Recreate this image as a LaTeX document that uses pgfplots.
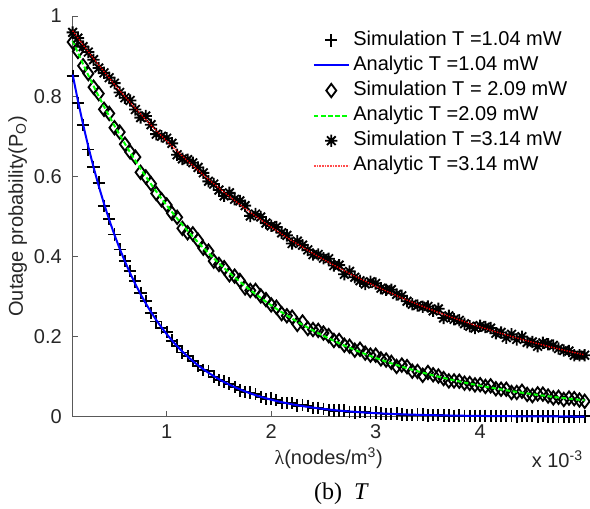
\documentclass[border=0pt]{standalone}
\usepackage{pgfplots}
\usepackage{pgfplotstable}
\pgfplotsset{compat=1.18}
\usepackage{fontspec}
\setmainfont{Liberation Sans}
\newfontfamily\seriffont{Liberation Serif}

\pgfdeclareplotmark{mstar}{%
\pgfpathmoveto{\pgfqpoint{-\pgfplotmarksize}{0pt}}\pgfpathlineto{\pgfqpoint{\pgfplotmarksize}{0pt}}%
\pgfpathmoveto{\pgfqpoint{0pt}{-\pgfplotmarksize}}\pgfpathlineto{\pgfqpoint{0pt}{\pgfplotmarksize}}%
\pgfpathmoveto{\pgfqpoint{-0.7071\pgfplotmarksize}{-0.7071\pgfplotmarksize}}\pgfpathlineto{\pgfqpoint{0.7071\pgfplotmarksize}{0.7071\pgfplotmarksize}}%
\pgfpathmoveto{\pgfqpoint{-0.7071\pgfplotmarksize}{0.7071\pgfplotmarksize}}\pgfpathlineto{\pgfqpoint{0.7071\pgfplotmarksize}{-0.7071\pgfplotmarksize}}%
\pgfusepathqstroke}

\pgfplotstableread{
x a1 s1 a2 s2 a3 s3
0.10 0.8539 0.8509 0.9380 0.9350 0.9633 0.9591
0.15 0.7890 0.7820 0.9085 0.9115 0.9454 0.9448
0.20 0.7291 0.7281 0.8799 0.8757 0.9279 0.9237
0.25 0.6737 0.6667 0.8521 0.8563 0.9107 0.9101
0.30 0.6225 0.6235 0.8253 0.8223 0.8939 0.8909
0.35 0.5752 0.5842 0.7993 0.8063 0.8773 0.8703
0.40 0.5315 0.5265 0.7741 0.7671 0.8611 0.8581
0.45 0.4912 0.4942 0.7498 0.7568 0.8451 0.8461
0.50 0.4538 0.4548 0.7262 0.7212 0.8294 0.8324
0.55 0.4194 0.4171 0.7033 0.7103 0.8141 0.8091
0.60 0.3875 0.3883 0.6811 0.6801 0.7990 0.7960
0.65 0.3581 0.3633 0.6597 0.6607 0.7842 0.7892
0.70 0.3309 0.3376 0.6389 0.6479 0.7697 0.7667
0.75 0.3057 0.3095 0.6188 0.6098 0.7554 0.7464
0.80 0.2825 0.2893 0.5993 0.5983 0.7414 0.7504
0.85 0.2611 0.2588 0.5804 0.5814 0.7277 0.7287
0.90 0.2412 0.2375 0.5621 0.5571 0.7142 0.7052
0.95 0.2229 0.2206 0.5444 0.5414 0.7010 0.7000
1.00 0.2060 0.2113 0.5273 0.5283 0.6880 0.6950
1.05 0.1903 0.1898 0.5107 0.5077 0.6752 0.6822
1.10 0.1759 0.1774 0.4946 0.4976 0.6627 0.6537
1.15 0.1625 0.1600 0.4790 0.4700 0.6504 0.6434
1.20 0.1502 0.1517 0.4639 0.4589 0.6384 0.6414
1.25 0.1388 0.1383 0.4493 0.4563 0.6266 0.6336
1.30 0.1282 0.1267 0.4352 0.4402 0.6150 0.6220
1.35 0.1185 0.1170 0.4215 0.4205 0.6036 0.6086
1.40 0.1095 0.1130 0.4082 0.4132 0.5924 0.5874
1.45 0.1012 0.0997 0.3953 0.3883 0.5814 0.5804
1.50 0.0935 0.0910 0.3829 0.3799 0.5706 0.5656
1.55 0.0864 0.0879 0.3708 0.3718 0.5601 0.5511
1.60 0.0798 0.0825 0.3592 0.3542 0.5497 0.5587
1.65 0.0738 0.0741 0.3478 0.3508 0.5395 0.5425
1.70 0.0682 0.0655 0.3369 0.3399 0.5295 0.5385
1.75 0.0630 0.0615 0.3263 0.3213 0.5197 0.5267
1.80 0.0582 0.0603 0.3160 0.3150 0.5101 0.5011
1.85 0.0538 0.0559 0.3061 0.3151 0.5006 0.5056
1.90 0.0497 0.0494 0.2964 0.3014 0.4914 0.4984
1.95 0.0459 0.0438 0.2871 0.2921 0.4822 0.4832
2.00 0.0424 0.0451 0.2780 0.2790 0.4733 0.4763
2.05 0.0392 0.0407 0.2693 0.2731 0.4645 0.4735
2.10 0.0362 0.0341 0.2608 0.2571 0.4559 0.4589
2.15 0.0335 0.0344 0.2526 0.2518 0.4475 0.4525
2.20 0.0309 0.0336 0.2446 0.2484 0.4392 0.4322
2.25 0.0286 0.0277 0.2369 0.2302 0.4311 0.4381
2.30 0.0264 0.0291 0.2295 0.2363 0.4231 0.4281
2.35 0.0244 0.0271 0.2222 0.2200 0.4152 0.4162
2.40 0.0226 0.0217 0.2152 0.2175 0.4075 0.4045
2.45 0.0208 0.0223 0.2085 0.2153 0.4000 0.4050
2.50 0.0193 0.0196 0.2019 0.2087 0.3926 0.3956
2.55 0.0178 0.0168 0.1955 0.2023 0.3853 0.3943
2.60 0.0164 0.0151 0.1894 0.1902 0.3782 0.3772
2.65 0.0152 0.0154 0.1834 0.1902 0.3712 0.3782
2.70 0.0140 0.0151 0.1776 0.1784 0.3643 0.3553
2.75 0.0130 0.0122 0.1720 0.1758 0.3575 0.3625
2.80 0.0120 0.0106 0.1666 0.1659 0.3509 0.3479
2.85 0.0111 0.0124 0.1614 0.1682 0.3444 0.3394
2.90 0.0102 0.0110 0.1563 0.1586 0.3380 0.3310
2.95 0.0095 0.0093 0.1514 0.1537 0.3318 0.3368
3.00 0.0087 0.0101 0.1466 0.1534 0.3256 0.3326
3.05 0.0081 0.0079 0.1420 0.1443 0.3196 0.3206
3.10 0.0075 0.0073 0.1375 0.1413 0.3137 0.3167
3.15 0.0069 0.0071 0.1332 0.1355 0.3079 0.3169
3.20 0.0064 0.0077 0.1290 0.1253 0.3022 0.3052
3.25 0.0059 0.0052 0.1249 0.1287 0.2966 0.3016
3.30 0.0054 0.0050 0.1210 0.1248 0.2911 0.2881
3.35 0.0050 0.0037 0.1172 0.1135 0.2857 0.2807
3.40 0.0047 0.0055 0.1135 0.1128 0.2804 0.2774
3.45 0.0043 0.0054 0.1099 0.1032 0.2752 0.2742
3.50 0.0040 0.0030 0.1065 0.1103 0.2701 0.2751
3.55 0.0037 0.0039 0.1031 0.1046 0.2651 0.2641
3.60 0.0034 0.0034 0.0999 0.1014 0.2602 0.2692
3.65 0.0031 0.0027 0.0967 0.0952 0.2554 0.2464
3.70 0.0029 0.0030 0.0937 0.0892 0.2506 0.2516
3.75 0.0027 0.0025 0.0907 0.0892 0.2460 0.2430
3.80 0.0025 0.0028 0.0879 0.0884 0.2414 0.2404
3.85 0.0023 0.0024 0.0851 0.0836 0.2370 0.2320
3.90 0.0021 0.0019 0.0824 0.0829 0.2326 0.2256
3.95 0.0019 0.0015 0.0798 0.0793 0.2283 0.2213
4.00 0.0018 0.0021 0.0773 0.0798 0.2240 0.2270
4.05 0.0017 0.0021 0.0749 0.0754 0.2199 0.2236
4.10 0.0015 0.0019 0.0725 0.0770 0.2158 0.2211
4.15 0.0014 0.0017 0.0702 0.0697 0.2118 0.2081
4.20 0.0013 0.0015 0.0680 0.0685 0.2079 0.2101
4.25 0.0012 0.0010 0.0659 0.0684 0.2040 0.1973
4.30 0.0011 0.0015 0.0638 0.0603 0.2003 0.2055
4.35 0.0010 0.0006 0.0618 0.0603 0.1965 0.1928
4.40 0.0010 0.0008 0.0598 0.0633 0.1929 0.1997
4.45 0.0009 0.0009 0.0580 0.0555 0.1893 0.1856
4.50 0.0008 0.0012 0.0561 0.0526 0.1858 0.1866
4.55 0.0008 0.0005 0.0544 0.0569 0.1824 0.1757
4.60 0.0007 0.0008 0.0527 0.0562 0.1790 0.1843
4.65 0.0006 0.0005 0.0510 0.0515 0.1757 0.1810
4.70 0.0006 0.0006 0.0494 0.0469 0.1724 0.1777
4.75 0.0006 0.0003 0.0478 0.0483 0.1692 0.1700
4.80 0.0005 0.0002 0.0463 0.0428 0.1661 0.1653
4.85 0.0005 0.0002 0.0449 0.0464 0.1630 0.1638
4.90 0.0004 0.0007 0.0435 0.0450 0.1600 0.1533
4.95 0.0004 0.0000 0.0421 0.0416 0.1570 0.1533
5.00 0.0004 0.0006 0.0408 0.0383 0.1541 0.1534
}\data

\begin{document}
\fontsize{15}{18}\selectfont
\begin{tikzpicture}
\useasboundingbox (-54.5pt,-68.5pt) rectangle (388pt,312.5pt);
\begin{axis}[
  at={(0pt,0pt)}, anchor=south west,
  scale only axis, width=384pt, height=300.5pt,
  xmin=0.1, xmax=5, ymin=0, ymax=1,
  clip=false, clip marker paths=true,
  axis x line*=bottom, axis y line*=left,
  axis line style={black!65, line width=0.6pt, -},
  every tick/.style={black!65, line width=0.6pt},
  tick align=inside, major tick length=4pt,
  xtick={1,2,3,4}, xticklabels={1,2,3,4},
  ytick={0,0.2,0.4,0.6,0.8,1}, yticklabels={0,0.2,0.4,0.6,0.8,1},
  /pgf/number format/assume math mode=true,
  tick label style={font=\fontsize{15}{18}\selectfont, text=black!85},
  xticklabel style={yshift=-1pt},
  yticklabel style={xshift=-3pt},
  xlabel={{\seriffont λ}(nodes/m\textsuperscript{3})},
  ylabel={Outage probability(P\textsubscript{O})},
  every axis x label/.style={at={(axis description cs:0.5,0)}, anchor=center, yshift=-31pt, font=\fontsize{15}{18}\selectfont, text=black!85},
  every axis y label/.style={at={(axis description cs:-0.1075,0.5)}, anchor=center, rotate=90, font=\fontsize{15}{18}\selectfont, text=black!85},
  legend style={draw=none, fill=none, at={(axis description cs:0.4693,0.962)}, anchor=north west, inner sep=0pt, outer sep=0pt,
    row sep=5.0pt, column sep=2.8pt,
    nodes={inner sep=0pt, text height=10.6pt, text depth=3.2pt, font=\fontsize{15}{18}\selectfont}},
  legend cell align=left,
  legend image code/.code={\draw[mark repeat=2,mark phase=2,#1] plot coordinates {(0pt,0pt) (13pt,0pt) (26pt,0pt)};},
]
\addplot[only marks, mark=+, mark size=4.6pt, line width=1.4pt, black] table[x=x,y=s1]{\data};
\addlegendentry{Simulation T =1.04 mW}
\addplot[blue, line width=1.5pt, no marks] table[x=x,y=a1]{\data};
\addlegendentry{Analytic T =1.04 mW}
\addplot[only marks, mark=diamond, mark size=5.0pt, line width=1.4pt, black] table[x=x,y=s2]{\data};
\addlegendentry{Simulation T = 2.09 mW}
\addplot[green, line width=1.5pt, dash pattern=on 3.4pt off 1.9pt, no marks] table[x=x,y=a2]{\data};
\addlegendentry{Analytic T =2.09 mW}
\addplot[only marks, mark=mstar, mark size=4.6pt, line width=1.4pt, black] table[x=x,y=s3]{\data};
\addlegendentry{Simulation T =3.14 mW}
\addplot[red, line width=1pt, dash pattern=on 1pt off 1pt, no marks, legend image post style={draw=red!70, line width=1.2pt, dash pattern=on 1.2pt off 0.8pt}] table[x=x,y=a3]{\data};
\addlegendentry{Analytic T =3.14 mW}
\node[anchor=base east, inner sep=0pt, text=black!85] at (axis description cs:0.9967,-0.128) {x 10\textsuperscript{-3}};
\node[anchor=center, inner sep=0pt, font=\seriffont\fontsize{18}{21}\selectfont] at (axis description cs:0.525,-0.193) {(b)\hspace{0.5em}\textit{T}};
\end{axis}
\end{tikzpicture}
\end{document}
